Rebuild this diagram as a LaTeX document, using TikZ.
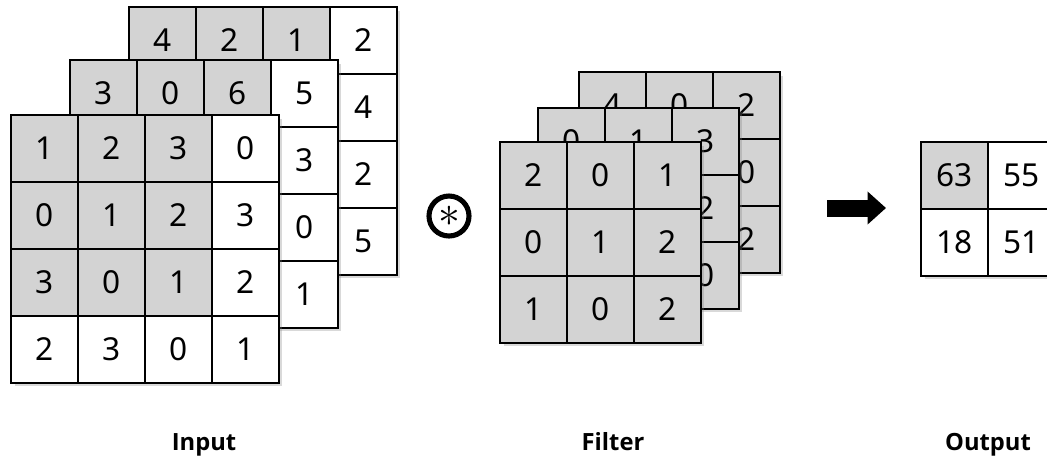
\documentclass[tikz,border=0pt]{standalone}
\usepackage{fontspec}
\setmainfont{Noto Sans}
\newfontfamily\labelfont{Open Sans}
\usepackage{tikz}
\usetikzlibrary{arrows.meta,shadows}
\definecolor{cellgray}{RGB}{211,211,211}

\begin{document}
\begin{tikzpicture}[x=0.02cm,y=-0.02cm,
  cell/.style={draw,line width=1.1pt,minimum size=1.34cm,inner sep=0pt,
    outer sep=0pt,font=\fontsize{18}{18}\selectfont},
  shade0/.style={fill=white},
  shade1/.style={fill=cellgray},
  layer/.style={fill=white,inner sep=0pt,outer sep=0pt,
    drop shadow={shadow xshift=0.07cm,shadow yshift=-0.07cm,opacity=0.3}},
  caption/.style={anchor=base,font=\labelfont\bfseries\fontsize{13.5}{16}\selectfont}]
\clip (0,0) rectangle (1047,458);

% input, back to front
\node (inback) at (263,141) [layer,minimum size=5.36cm] {};
\foreach \r/\row in {0/{4,2,1,2},1/{{},{},{},4},2/{{},{},{},2},3/{{},{},{},5}}
  \foreach \v [count=\c from 0] in \row {
    \pgfmathtruncatemacro\sh{(\r<3)*(\c<3)}
    \node (inb-\r-\c) at ({162.5+67*\c},{40.5+67*\r}) [cell,shade\sh] {\v};
  }
\node (inmid) at (204,194) [layer,minimum size=5.36cm] {};
\foreach \r/\row in {0/{3,0,6,5},1/{{},{},{},3},2/{{},{},{},0},3/{{},{},{},1}}
  \foreach \v [count=\c from 0] in \row {
    \pgfmathtruncatemacro\sh{(\r<3)*(\c<3)}
    \node (inm-\r-\c) at ({103.5+67*\c},{93.5+67*\r}) [cell,shade\sh] {\v};
  }
\node (infront) at (145,249) [layer,minimum size=5.36cm] {};
\foreach \r/\row in {0/{1,2,3,0},1/{0,1,2,3},2/{3,0,1,2},3/{2,3,0,1}}
  \foreach \v [count=\c from 0] in \row {
    \pgfmathtruncatemacro\sh{(\r<3)*(\c<3)}
    \node (inf-\r-\c) at ({44.5+67*\c},{148.5+67*\r}) [cell,shade\sh] {\v};
  }

% convolution sign
\node (conv) at (449,216) [circle,draw,line width=2.9pt,minimum size=0.8cm,
  inner sep=0pt] {\fontsize{30}{30}\selectfont$\ast$};

% filter, back to front
\node (fback) at (679.5,172.5) [layer,minimum size=4.02cm] {};
\foreach \r/\row in {0/{4,0,2},1/{{},{},0},2/{{},{},2}}
  \foreach \v [count=\c from 0] in \row
    \node (fb-\r-\c) at ({612.5+67*\c},{105.5+67*\r}) [cell,shade1] {\v};
\node (fmid) at (638.5,208.5) [layer,minimum size=4.02cm] {};
\foreach \r/\row in {0/{0,1,3},1/{{},{},2},2/{{},{},0}}
  \foreach \v [count=\c from 0] in \row
    \node (fm-\r-\c) at ({571.5+67*\c},{141.5+67*\r}) [cell,shade1] {\v};
\node (ffront) at (600.5,242.5) [layer,minimum size=4.02cm] {};
\foreach \r/\row in {0/{2,0,1},1/{0,1,2},2/{1,0,2}}
  \foreach \v [count=\c from 0] in \row
    \node (ff-\r-\c) at ({533.5+67*\c},{175.5+67*\r}) [cell,shade1] {\v};

% arrow
\coordinate (arrtail) at (827,208);
\coordinate (arrhead) at (886,208);
\draw[line width=0.34cm,-{Triangle[length=0.37cm,width=0.64cm]}] (arrtail) -- (arrhead);

% output
\node (outgrid) at (988,209) [layer,minimum size=2.68cm] {};
\node (out-0-0) at (954.5,175.5) [cell,shade1] {63};
\node (out-0-1) at (1021.5,175.5) [cell,shade0] {55};
\node (out-1-0) at (954.5,242.5) [cell,shade0] {18};
\node (out-1-1) at (1021.5,242.5) [cell,shade0] {51};

% captions
\node (inputlbl) at (204,450) [caption] {Input};
\node (filterlbl) at (613,450) [caption] {Filter};
\node (outputlbl) at (988,450) [caption] {Output};
\end{tikzpicture}
\end{document}
